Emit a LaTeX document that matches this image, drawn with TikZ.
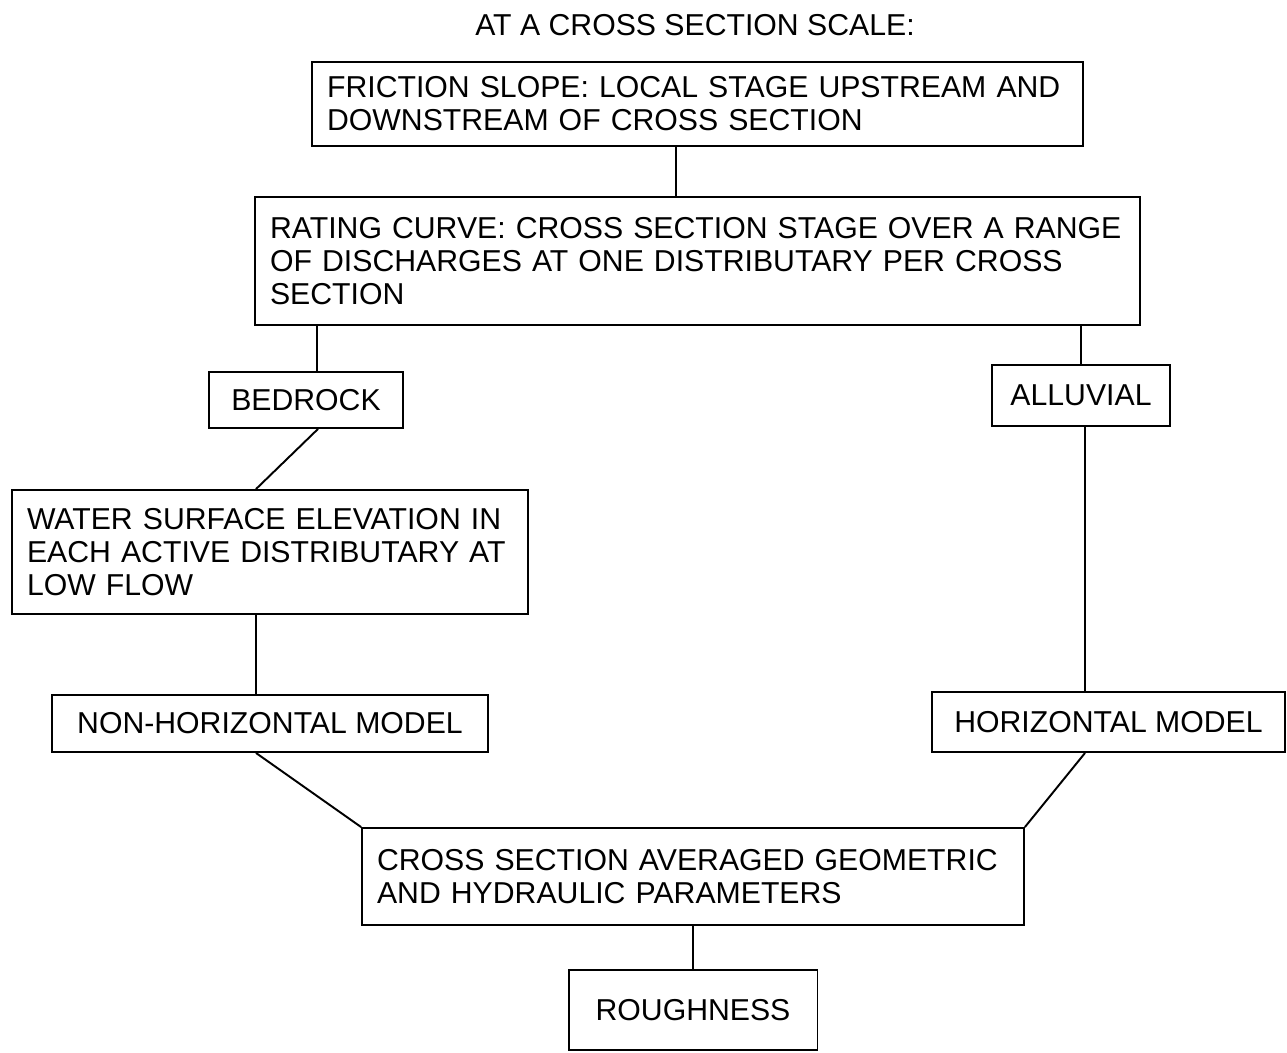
\documentclass[tikz,border=0pt]{standalone}
\usepackage{fontspec}
\setmainfont{Liberation Sans}
\usetikzlibrary{positioning}

\begin{document}
\begin{tikzpicture}[x=0.02cm, y=-0.02cm]
\tikzstyle{block}=[draw, shape=rectangle, line width=1.1pt, align=left, inner xsep=0.3cm, inner ysep=0pt, font=\fontsize{17.2}{18.8}\selectfont]
\tikzstyle{heading}=[font=\fontsize{17.2}{18.8}\selectfont]
\tikzstyle{link}=[line width=1.1pt]
\useasboundingbox (0,0) rectangle (1287,1052);

\node[heading] (t) at (695,25) {AT A CROSS SECTION SCALE:};
\node[block, minimum height=1.68cm, text width=14.82cm] (0) at (697.5,104) {FRICTION SLOPE: LOCAL STAGE UPSTREAM AND\\DOWNSTREAM OF CROSS SECTION};
\node[block, minimum height=2.56cm, text width=17.1cm] (1) [below=0.98cm of 0] {RATING CURVE: CROSS SECTION STAGE OVER A RANGE\\OF DISCHARGES AT ONE DISTRIBUTARY PER CROSS\\SECTION};
\node[block, minimum width=3.88cm, minimum height=1.12cm] (2) at (306,400) {BEDROCK};
\node[block, minimum width=3.56cm, minimum height=1.22cm] (3) at (1081,395.5) {ALLUVIAL};
\node[block, minimum height=2.48cm, text width=9.72cm] (4) at (270,552) {WATER SURFACE ELEVATION IN\\EACH ACTIVE DISTRIBUTARY AT\\LOW FLOW};
\node[block, minimum width=8.72cm, minimum height=1.14cm] (5) at (270,723.5) {NON-HORIZONTAL MODEL};
\node[block, minimum width=7.06cm, minimum height=1.2cm] (6) at (1108.5,722) {HORIZONTAL MODEL};
\node[block, minimum height=1.94cm, text width=12.64cm] (7) at (693,876.5) {CROSS SECTION AVERAGED GEOMETRIC\\AND HYDRAULIC PARAMETERS};
\node[block, minimum width=4.98cm, minimum height=1.6cm] (8) [below=0.86cm of 7] {ROUGHNESS};

\draw[link] ([xshift=-0.43cm]0.south) to ([xshift=-0.43cm]1.north);
\draw[link] ([xshift=0.22cm]2.north) to ([xshift=0.22cm]2.north |- 1.south);
\draw[link] (3.north) to (3.north |- 1.south);
\draw[link] ([xshift=0.24cm]2.south) to ([xshift=-0.28cm]4.north);
\draw[link] ([xshift=-0.28cm]4.south) to ([xshift=-0.28cm]5.north);
\draw[link] ([xshift=0.08cm]3.south) to ([xshift=0.08cm]3.south |- 6.north);
\draw[link] ([xshift=-0.28cm]5.south) to (7.north west);
\draw[link] ([xshift=-0.47cm]6.south) to (7.north east);
\draw[link] (7.south) to (8.north);

\end{tikzpicture}
\end{document}
